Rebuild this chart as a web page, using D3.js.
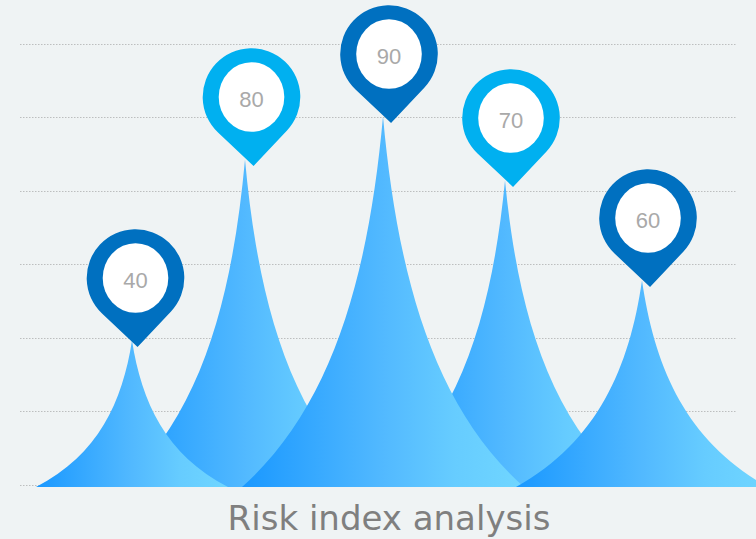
<!DOCTYPE html>
<html>
<head>
<meta charset="utf-8">
<style>
html,body{margin:0;padding:0;background:#eff3f4;}
svg{display:block;}
</style>
<script src="https://cdn.jsdelivr.net/npm/d3@7/dist/d3.min.js"></script>
</head>
<body>
<svg id="chart" width="756" height="539"></svg>
<script>
// Risk index values, one per spike
const categories = ["A", "B", "C", "D", "E"];
const riskValues = [40, 80, 90, 70, 60];
const gridSteps = [0, 1, 2, 3, 4, 5, 6];
const chartTitle = "Risk index analysis";

const svg = d3.select("#chart");

const x = d3.scaleOrdinal().domain(categories).range([132, 245, 383, 505, 642]);
const pinX = d3.scaleOrdinal().domain(categories).range([135.5, 251.5, 389, 511, 648]);
const halfBase = d3.scaleOrdinal().domain(categories).range([96, 125, 141, 125, 126]);
// Infographic height scale: the spikes are stretched unevenly between the values
const y = d3.scaleLinear().domain([0, 40, 60, 70, 80, 90]).range([487, 340.5, 280.5, 180.5, 159.5, 116.5]);
const grid = d3.scaleLinear().domain([0, 6]).range([485, 44]);

const defs = svg.append("defs");
const gradient = defs.append("linearGradient").attr("id", "spikeFill")
  .attr("x1", 0).attr("x2", 1).attr("y1", 0).attr("y2", 0);
gradient.selectAll("stop")
  .data([[0, "#1a98ff"], [0.5, "#52b9ff"], [0.75, "#66ccff"], [1, "#70d6ff"]])
  .join("stop")
  .attr("offset", d => d[0])
  .attr("stop-color", d => d[1]);

// Dotted horizontal guides, snapped to whole pixel rows
svg.append("g").selectAll("line").data(gridSteps).join("line")
  .attr("x1", 20).attr("x2", 736)
  .attr("y1", d => Math.floor(grid(d)) + 0.5).attr("y2", d => Math.floor(grid(d)) + 0.5)
  .attr("stroke", "#bcbebf").attr("stroke-width", 1).attr("stroke-dasharray", "1.5,1.5");

function spikePath(c, v) {
  const cx = x(c), top = y(v), base = y(0), w = halfBase(c), h = base - top;
  const p = d3.path();
  p.moveTo(cx - w, base);
  p.bezierCurveTo(cx - 0.35 * w, top + 0.78 * h, cx - 0.1 * w, top + 0.42 * h, cx, top);
  p.bezierCurveTo(cx + 0.1 * w, top + 0.42 * h, cx + 0.35 * w, top + 0.78 * h, cx + w, base);
  p.closePath();
  return p.toString();
}

const rows = categories.map((c, i) => ({ c, v: riskValues[i], i }));
// Even-indexed spikes sit in front of the odd-indexed ones
const drawOrder = [1, 3, 0, 2, 4].map(i => rows[i]);

svg.append("g").selectAll("path").data(drawOrder).join("path")
  .attr("d", d => spikePath(d.c, d.v))
  .attr("fill", "url(#spikeFill)");

const R = 48.8;
function pinPath() {
  const p = d3.path();
  const k = R * Math.SQRT1_2;
  p.moveTo(-k, k);
  p.arc(0, 0, R, Math.PI * 0.75, Math.PI * 0.25);
  p.lineTo(0, R * Math.SQRT2);
  p.closePath();
  return p.toString();
}

const pins = svg.append("g").selectAll("g").data(rows).join("g")
  .attr("transform", d => `translate(${pinX(d.c)},${y(d.v) - 62.5})`);
pins.append("path")
  .attr("d", pinPath())
  .attr("transform", "rotate(-1.7)")
  .attr("fill", d => d.i % 2 ? "#00b0f0" : "#0070c0");
pins.append("ellipse")
  .attr("rx", 32.8).attr("ry", 34.8)
  .attr("fill", "#ffffff");
pins.append("text")
  .attr("text-anchor", "middle").attr("y", 10)
  .attr("font-family", "'Liberation Sans', Arial, sans-serif")
  .attr("font-size", 22)
  .attr("fill", "#a9a9a9")
  .text(d => d.v);

svg.append("text")
  .attr("x", 389).attr("y", 530)
  .attr("text-anchor", "middle")
  .attr("font-family", "'DejaVu Sans', sans-serif")
  .attr("font-size", 34)
  .attr("fill", "#7f7f7f")
  .text(chartTitle);
</script>
</body>
</html>
